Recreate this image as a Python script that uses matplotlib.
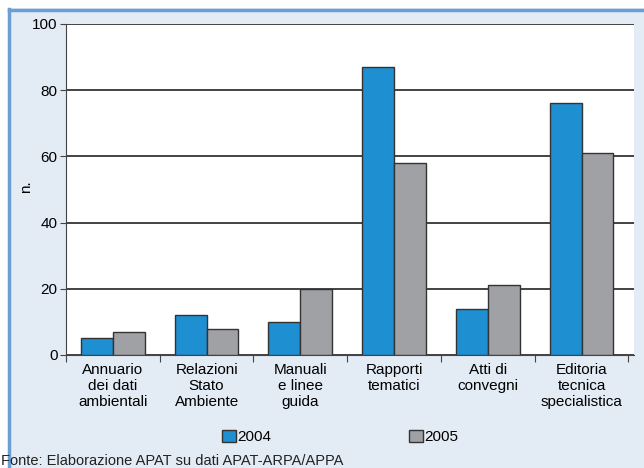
import matplotlib
matplotlib.use("Agg")
import matplotlib.pyplot as plt
from matplotlib.patches import Rectangle
import numpy as np

categories = ["Annuario\ndei dati\nambientali", "Relazioni\nStato\nAmbiente", "Manuali\ne linee\nguida",
              "Rapporti\ntematici", "Atti di\nconvegni", "Editoria\ntecnica\nspecialistica"]
v2004 = [5, 12, 10, 87, 14, 76]
v2005 = [7, 8, 20, 58, 21, 61]
yticks = [0, 20, 40, 60, 80, 100]

plt.rcParams['font.family'] = ['Liberation Sans Narrow', 'Liberation Sans', 'DejaVu Sans']

W, H = 644, 468
fig = plt.figure(figsize=(W/100, H/100), dpi=100)
bg = "#e3ebf5"
fig.patch.set_facecolor("white")
# panel background and border
fig.add_artist(Rectangle((8/W, 0), 1, 1 - 8/H, transform=fig.transFigure,
                         facecolor=bg, edgecolor="none", zorder=0))
fig.add_artist(plt.Line2D([8.5/W, 8.5/W], [0, 1 - 9/H], transform=fig.transFigure,
                          color="#6a9fd4", lw=2.5, zorder=1))
fig.add_artist(plt.Line2D([8.5/W, 1], [1 - 9.5/H, 1 - 9.5/H], transform=fig.transFigure,
                          color="#6a9fd4", lw=2.5, zorder=1))

left, right, top, bottom = 66, 634, 24, 355
ax = fig.add_axes([left/W, 1 - bottom/H, (right-left)/W, (bottom-top)/H])
ax.set_facecolor("white")

x = np.arange(len(categories))
w = 0.34
ax.bar(x - w/2, v2004, w, color="#1e8fd0", edgecolor="#333333", linewidth=1.0, zorder=3, label="2004")
ax.bar(x + w/2, v2005, w, color="#a0a1a5", edgecolor="#333333", linewidth=1.0, zorder=3, label="2005")

ax.set_xlim(-0.5, len(categories) - 0.5 + 0.06)
ax.set_ylim(0, 100)
ax.set_yticks(yticks)
ax.set_yticklabels([str(t) for t in yticks], fontsize=11)
ax.yaxis.grid(True, color="#222222", linewidth=1.2, zorder=0)
ax.set_axisbelow(True)
ax.set_xticks(np.arange(len(categories) + 1) - 0.5, minor=False)
ax.set_xticklabels([])
ax.set_xticks(x, minor=True)
ax.set_xticklabels(categories, minor=True, fontsize=11, linespacing=1.15)
ax.tick_params(axis='x', which='minor', length=0, pad=6)
ax.tick_params(axis='x', which='major', length=5, direction='out', color="#444444")
ax.tick_params(axis='y', length=4, color="#444444", pad=2)
for s in ["top", "right"]:
    ax.spines[s].set_visible(False)
ax.spines["left"].set_color("#444444")
ax.spines["bottom"].set_color("#444444")
ax.set_ylabel("n.", fontsize=11)
ax.yaxis.set_label_coords((33 - left) / (right - left), 0.51)

# legend
h1 = Rectangle((0, 0), 1, 1, facecolor="#1e8fd0", edgecolor="#333333")
h2 = Rectangle((0, 0), 1, 1, facecolor="#a0a1a5", edgecolor="#333333")
fig.legend([h1, h2], ["2004", "2005"], loc="center", bbox_to_anchor=(340/W, 1 - 437/H),
           ncol=2, frameon=False, fontsize=11, handlelength=0.9, handleheight=0.9,
           handletextpad=0.1, columnspacing=9.0)

fig.text(1/W, 1 - 461/H, "Fonte: Elaborazione APAT su dati APAT-ARPA/APPA", fontsize=10.5,
         va="center", ha="left", color="#222222")

fig.savefig("out.png", dpi=100, facecolor=fig.get_facecolor())
